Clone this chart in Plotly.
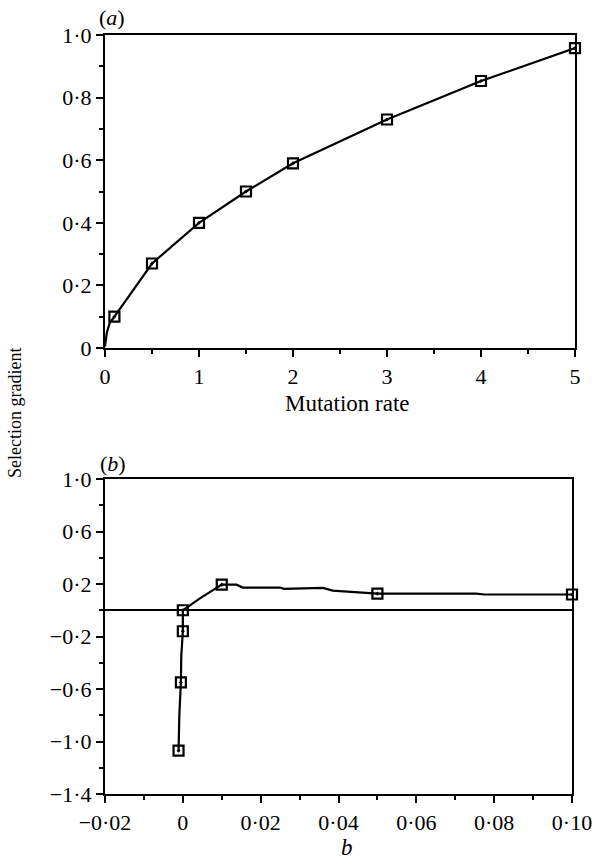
import plotly.graph_objects as go

# ---- Panel (a): selection gradient vs mutation rate ----
a_curve_x = [0.0, 0.02, 0.05, 0.1, 0.5, 1.0, 1.5, 2.0, 3.0, 4.0, 5.0]
a_curve_y = [0.005, 0.05, 0.08, 0.10, 0.27, 0.40, 0.50, 0.59, 0.73, 0.853, 0.958]
a_marked_x = [0.1, 0.5, 1.0, 1.5, 2.0, 3.0, 4.0, 5.0]
a_marked_y = [0.10, 0.27, 0.40, 0.50, 0.59, 0.73, 0.853, 0.958]

a_xticks = [0, 1, 2, 3, 4, 5]
a_xticklabels = ["0", "1", "2", "3", "4", "5"]
a_yticks = [0, 0.2, 0.4, 0.6, 0.8, 1.0]
a_yticklabels = ["0", "0·2", "0·4", "0·6", "0·8", "1·0"]

# ---- Panel (b): selection gradient vs b ----
b_curve_x = [-0.0011, -0.0009, -0.0005, -0.0004, 0.0, 0.0, 0.0044, 0.01, 0.0138,
             0.0154, 0.025, 0.026, 0.036, 0.0385, 0.048, 0.05, 0.0754, 0.0775, 0.10]
b_curve_y = [-1.07, -0.80, -0.55, -0.35, -0.16, 0.0, 0.09, 0.195, 0.195,
             0.173, 0.173, 0.163, 0.17, 0.15, 0.13, 0.127, 0.127, 0.12, 0.12]
b_marked_x = [-0.0011, -0.0005, 0.0, 0.0, 0.01, 0.05, 0.10]
b_marked_y = [-1.07, -0.55, -0.16, 0.0, 0.195, 0.127, 0.12]

b_xticks = [-0.02, 0, 0.02, 0.04, 0.06, 0.08, 0.10]
b_xticklabels = ["−0·02", "0", "0·02", "0·04", "0·06", "0·08", "0·10"]
b_yticks = [-1.4, -1.0, -0.6, -0.2, 0.2, 0.6, 1.0]
b_yticklabels = ["−1·4", "−1·0", "−0·6", "−0·2", "0·2", "0·6", "1·0"]

FONT = "Liberation Serif"
BLACK = "#000000"

fig = go.Figure()

marker_style = dict(symbol="square-open-dot", size=10, color=BLACK, line=dict(width=2.2, color=BLACK))

fig.add_trace(go.Scatter(x=a_curve_x, y=a_curve_y, mode="lines",
                         line=dict(color=BLACK, width=2.2), xaxis="x", yaxis="y",
                         showlegend=False, hoverinfo="skip"))
fig.add_trace(go.Scatter(x=a_marked_x, y=a_marked_y, mode="markers",
                         marker=marker_style, xaxis="x", yaxis="y",
                         showlegend=False, cliponaxis=False))
fig.add_trace(go.Scatter(x=b_curve_x, y=b_curve_y, mode="lines",
                         line=dict(color=BLACK, width=2.2), xaxis="x2", yaxis="y2",
                         showlegend=False, hoverinfo="skip"))
fig.add_trace(go.Scatter(x=b_marked_x, y=b_marked_y, mode="markers",
                         marker=marker_style, xaxis="x2", yaxis="y2",
                         showlegend=False, cliponaxis=False))

axis_common = dict(
    showgrid=False, zeroline=False, showline=True, linecolor=BLACK, linewidth=2.2,
    mirror=True, ticks="outside", ticklen=7, tickwidth=2.2, tickcolor=BLACK,
    automargin=False,
    tickfont=dict(family=FONT, size=22, color=BLACK),
)
minor_common = dict(ticklen=4, tickwidth=2, tickcolor=BLACK, ticks="outside")

fig.update_layout(
    width=598, height=865,
    margin=dict(l=105, r=23, t=35, b=71),
    paper_bgcolor="white", plot_bgcolor="white",
    font=dict(family=FONT, color=BLACK),
    xaxis=dict(axis_common, domain=[0, 1], range=[0, 5], anchor="y",
               tickvals=a_xticks, ticktext=a_xticklabels,
               minor=dict(minor_common, dtick=0.5, tick0=0)),
    yaxis=dict(axis_common, domain=[0.5876, 1.0], range=[0, 1.0], anchor="x",
               tickvals=a_yticks, ticktext=a_yticklabels,
               minor=dict(minor_common, dtick=0.1, tick0=0)),
    xaxis2=dict(axis_common, domain=[0, 0.9936], range=[-0.02, 0.10], anchor="y2",
                tickvals=b_xticks, ticktext=b_xticklabels,
                minor=dict(minor_common, dtick=0.01, tick0=0)),
    yaxis2=dict(axis_common, domain=[0, 0.415], range=[-1.4, 1.0], anchor="x2",
                tickvals=b_yticks, ticktext=b_yticklabels,
                zeroline=True, zerolinecolor=BLACK, zerolinewidth=2.2,
                minor=dict(minor_common, dtick=0.2, tick0=0)),
    annotations=[
        dict(text="(<i>a</i>)", xref="paper", yref="paper", x=0.015, y=1.0237,
             xanchor="center", yanchor="middle", showarrow=False,
             font=dict(family=FONT, size=22, color=BLACK)),
        dict(text="(<i>b</i>)", xref="paper", yref="paper", x=0.017, y=0.4348,
             xanchor="center", yanchor="middle", showarrow=False,
             font=dict(family=FONT, size=22, color=BLACK)),
        dict(text="Mutation rate", xref="paper", yref="paper", x=0.515, y=0.515,
             xanchor="center", yanchor="middle", showarrow=False,
             font=dict(family=FONT, size=23, color=BLACK)),
        dict(text="<i>b</i>", xref="paper", yref="paper", x=0.515, y=-0.0711,
             xanchor="center", yanchor="middle", showarrow=False,
             font=dict(family=FONT, size=23, color=BLACK)),
        dict(text="Selection gradient", xref="paper", yref="paper", x=-0.1915, y=0.502,
             xanchor="center", yanchor="middle", textangle=-90, showarrow=False,
             font=dict(family=FONT, size=18, color=BLACK)),
    ],
)

fig.write_html("out.html", config={"displayModeBar": False},
               post_script="document.body.style.margin='0';")
